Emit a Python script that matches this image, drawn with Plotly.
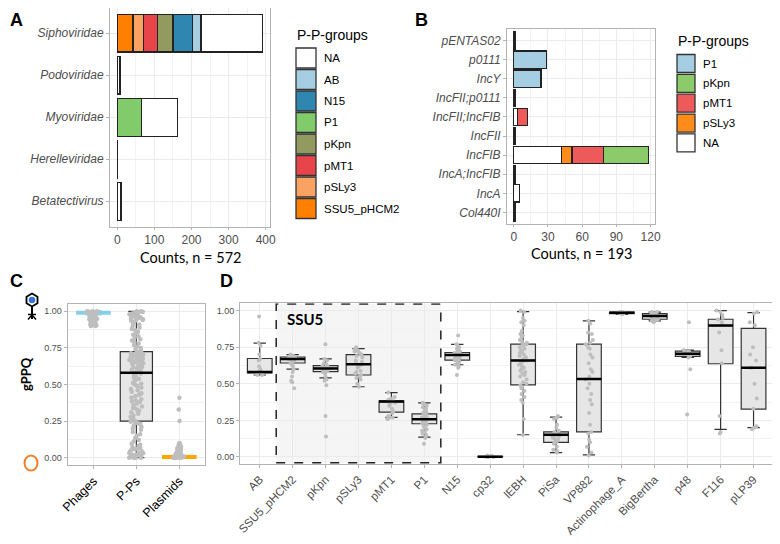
import plotly.graph_objects as go

# ---------------- panel A : phage families ----------------
families = ['Siphoviridae', 'Podoviridae', 'Myoviridae', 'Herelleviridae', 'Betatectivirus']
a_ssu5 = [42, 0, 0, 0, 0]
a_psly3 = [29, 0, 0, 0, 0]
a_pmt1 = [38, 0, 0, 0, 0]
a_pkpn = [41, 0, 0, 0, 0]
a_p1 = [0, 0, 66, 0, 0]
a_n15 = [52, 0, 0, 0, 0]
a_ab = [24, 0, 0, 0, 0]
a_na = [166, 7, 96, 1, 10]
groups_a = ['SSU5_pHCM2', 'pSLy3', 'pMT1', 'pKpn', 'P1', 'N15', 'AB', 'NA']
colors_a = ['#FF7F00', '#F9A262', '#E8454A', '#939A5F', '#82CB6A', '#2F86B0', '#A6CEE3', '#FFFFFF']

# ---------------- panel B : plasmid replicons ----------------
replicons = ['pENTAS02', 'p0111', 'IncY', 'IncFII;p0111', 'IncFII;IncFIB',
             'IncFII', 'IncFIB', 'IncA;IncFIB', 'IncA', 'Col440I']
b_na = [1, 0, 0, 1, 3, 1, 42, 1, 5, 1]
b_psly3 = [0, 0, 0, 0, 0, 0, 9, 0, 0, 0]
b_pmt1 = [0, 0, 0, 0, 9, 0, 28, 0, 0, 0]
b_pkpn = [0, 0, 0, 0, 0, 0, 39, 0, 0, 0]
b_p1 = [0, 29, 24, 0, 0, 0, 0, 0, 0, 0]
groups_b = ['NA', 'pSLy3', 'pMT1', 'pKpn', 'P1']
colors_b = ['#FFFFFF', '#FF8C1A', '#EE5A5A', '#8CCB69', '#A6CEE3']

# ---------------- panel C : gPPQ by element type ----------------
elements = ['Phages', 'P-Ps', 'Plasmids']
c_q1 = [0.985, 0.25, 0.0]
c_med = [0.99, 0.58, 0.005]
c_q3 = [0.995, 0.725, 0.01]
c_lo = [0.98, 0.0, 0.0]
c_hi = [1.0, 1.0, 0.012]
c_phages = [1.0, 1.0, 0.995, 0.995, 0.99, 0.99, 0.99, 0.985, 0.985, 0.98, 0.98, 0.975,
            0.97, 0.97, 0.965, 0.96, 0.96, 0.955, 0.95, 0.95, 0.945, 0.94, 0.935, 0.93,
            0.93, 0.925, 0.92, 0.915, 0.91, 0.905, 0.9, 0.9, 0.97, 0.99, 1.0, 0.98,
            0.96, 0.94, 0.92, 0.995]
c_pps = [0.0, 0.0, 0.0, 0.004, 0.008, 0.012, 0.015, 0.02, 0.022, 0.027, 0.03, 0.034,
         0.04, 0.043, 0.05, 0.056, 0.06, 0.067, 0.072, 0.08, 0.088, 0.095, 0.11, 0.12,
         0.135, 0.15, 0.16, 0.175, 0.19, 0.2, 0.21, 0.22, 0.23, 0.235, 0.24, 0.245,
         0.0, 0.01, 0.03, 0.06,
         0.25, 0.26, 0.27, 0.275, 0.28, 0.29, 0.3, 0.31, 0.315, 0.32, 0.33, 0.34, 0.345,
         0.35, 0.36, 0.37, 0.38, 0.385, 0.39, 0.4, 0.41, 0.42, 0.43, 0.435, 0.44, 0.45,
         0.46, 0.47, 0.48, 0.49, 0.5, 0.505, 0.51, 0.52, 0.53, 0.54, 0.55, 0.56, 0.565, 0.575,
         0.58, 0.585, 0.59, 0.595, 0.6, 0.605, 0.61, 0.615, 0.62, 0.625, 0.63, 0.635,
         0.64, 0.645, 0.65, 0.652, 0.656, 0.66, 0.664, 0.668, 0.672, 0.676, 0.68, 0.684,
         0.688, 0.69, 0.694, 0.698, 0.7, 0.704, 0.708, 0.71, 0.714, 0.718, 0.72, 0.724,
         0.6, 0.62, 0.66, 0.7,
         0.73, 0.74, 0.75, 0.76, 0.77, 0.78, 0.79, 0.8, 0.81, 0.82, 0.83, 0.84, 0.85,
         0.86, 0.87, 0.88, 0.89, 0.9, 0.91, 0.92, 0.93, 0.935, 0.94, 0.945, 0.95, 0.955,
         0.96, 0.965, 0.97, 0.975, 0.98, 0.985, 0.99, 0.99, 0.995, 1.0, 1.0, 0.98, 0.96, 0.94]
c_plasmids = [0.41, 0.33, 0.25, 0.1, 0.095, 0.09, 0.085, 0.08, 0.075, 0.07, 0.065, 0.06,
              0.055, 0.05, 0.045, 0.04, 0.04, 0.035, 0.03, 0.03, 0.025, 0.025, 0.02, 0.02,
              0.018, 0.015, 0.015, 0.012, 0.01, 0.01, 0.008, 0.006, 0.005, 0.004, 0.003,
              0.002, 0.001, 0.0, 0.0, 0.0, 0.0, 0.0, 0.02, 0.03, 0.01]

# ---------------- panel D : gPPQ by P-P group ----------------
pp_groups = ['AB', 'SSU5_pHCM2', 'pKpn', 'pSLy3', 'pMT1', 'P1', 'N15', 'cp32', 'lEBH',
             'PiSa', 'VP882', 'Actinophage_A', 'BigBertha', 'p48', 'F116', 'pLP39']
d_q1 = [0.575, 0.642, 0.583, 0.56, 0.306, 0.227, 0.662, 0.0, 0.492, 0.10, 0.172, 0.98, 0.941, 0.687, 0.637, 0.327]
d_med = [0.58, 0.669, 0.605, 0.633, 0.379, 0.258, 0.696, 0.002, 0.66, 0.152, 0.533, 0.985, 0.964, 0.705, 0.898, 0.61]
d_q3 = [0.673, 0.683, 0.624, 0.70, 0.383, 0.295, 0.714, 0.004, 0.771, 0.172, 0.771, 0.99, 0.98, 0.723, 0.941, 0.878]
d_lo = [0.56, 0.60, 0.54, 0.48, 0.27, 0.135, 0.63, 0.0, 0.152, 0.03, 0.014, 0.975, 0.93, 0.68, 0.188, 0.20]
d_hi = [0.778, 0.70, 0.67, 0.74, 0.44, 0.37, 0.77, 0.005, 0.993, 0.272, 0.93, 0.99, 0.99, 0.73, 1.0, 0.986]

d_ab = [0.96, 0.78, 0.76, 0.70, 0.67, 0.66, 0.62, 0.60, 0.59, 0.58, 0.58, 0.57, 0.57, 0.56, 0.56]
d_ssu5 = [0.70, 0.69, 0.69, 0.68, 0.68, 0.67, 0.67, 0.67, 0.66, 0.66, 0.65, 0.65, 0.64,
          0.63, 0.62, 0.60, 0.58, 0.55, 0.52, 0.51, 0.47]
d_pkpn = [0.77, 0.67, 0.66, 0.64, 0.63, 0.62, 0.62, 0.61, 0.61, 0.60, 0.60, 0.60, 0.59,
          0.59, 0.58, 0.58, 0.57, 0.55, 0.53, 0.52, 0.49, 0.28, 0.14]
d_psly3 = [0.75, 0.74, 0.73, 0.72, 0.72, 0.71, 0.70, 0.69, 0.68, 0.66, 0.65, 0.64, 0.63,
           0.62, 0.61, 0.59, 0.58, 0.57, 0.56, 0.55, 0.54, 0.53, 0.50, 0.48]
d_pmt1 = [0.44, 0.41, 0.40, 0.39, 0.38, 0.38, 0.37, 0.37, 0.36, 0.35, 0.33, 0.31, 0.30,
          0.28, 0.27, 0.27, 0.26, 0.26]
d_p1 = [0.37, 0.36, 0.36, 0.35, 0.34, 0.33, 0.32, 0.31, 0.30, 0.30, 0.29, 0.29, 0.28,
        0.28, 0.27, 0.27, 0.27, 0.26, 0.26, 0.26, 0.25, 0.25, 0.25, 0.24, 0.24, 0.23,
        0.23, 0.22, 0.21, 0.20, 0.19, 0.18, 0.17, 0.16, 0.15, 0.14, 0.13, 0.09]
d_n15 = [0.83, 0.77, 0.76, 0.75, 0.74, 0.73, 0.72, 0.72, 0.71, 0.71, 0.70, 0.70, 0.70,
         0.69, 0.69, 0.68, 0.68, 0.67, 0.67, 0.66, 0.66, 0.65, 0.64, 0.63, 0.62, 0.61, 0.56]
d_cp32 = [0.0, 0.0, 0.005, 0.01, 0.0, 0.008]
d_iebh = [1.0, 0.99, 0.95, 0.93, 0.92, 0.90, 0.86, 0.84, 0.83, 0.82, 0.80, 0.79, 0.78,
          0.77, 0.77, 0.76, 0.75, 0.74, 0.73, 0.72, 0.71, 0.70, 0.69, 0.68, 0.67, 0.66,
          0.66, 0.65, 0.64, 0.63, 0.62, 0.61, 0.60, 0.59, 0.58, 0.57, 0.56, 0.55, 0.53,
          0.51, 0.50, 0.49, 0.48, 0.47, 0.45, 0.43, 0.41, 0.39, 0.37, 0.26, 0.15]
d_pisa = [0.28, 0.27, 0.27, 0.26, 0.22, 0.20, 0.18, 0.17, 0.16, 0.16, 0.15, 0.15, 0.14,
          0.14, 0.13, 0.13, 0.12, 0.11, 0.10, 0.09, 0.07, 0.05, 0.04, 0.03]
d_vp882 = [0.93, 0.91, 0.85, 0.84, 0.80, 0.78, 0.77, 0.75, 0.74, 0.70, 0.68, 0.64, 0.60,
           0.58, 0.55, 0.53, 0.50, 0.47, 0.43, 0.39, 0.36, 0.30, 0.22, 0.17, 0.16, 0.12,
           0.10, 0.07, 0.03, 0.01]
d_actino = [0.99, 0.99, 0.985, 0.985, 0.98, 0.98, 0.99, 0.975]
d_bigbertha = [0.99, 0.99, 0.985, 0.98, 0.975, 0.97, 0.965, 0.96, 0.96, 0.955, 0.95,
               0.94, 0.935, 0.93, 0.92]
d_p48 = [0.92, 0.73, 0.72, 0.72, 0.71, 0.70, 0.70, 0.69, 0.68, 0.60, 0.29]
d_f116 = [1.0, 0.99, 0.97, 0.95, 0.94, 0.92, 0.90, 0.85, 0.73, 0.64, 0.28, 0.17, 0.16]
d_plp39 = [0.99, 0.98, 0.92, 0.90, 0.75, 0.70, 0.66, 0.61, 0.50, 0.40, 0.33, 0.21, 0.20, 0.19]
d_points = [d_ab, d_ssu5, d_pkpn, d_psly3, d_pmt1, d_p1, d_n15, d_cp32, d_iebh, d_pisa,
            d_vp882, d_actino, d_bigbertha, d_p48, d_f116, d_plp39]

W, H = 780, 544
OFF = 8  # the page body adds an 8px margin, so shift everything back by that much
def px(x):
    return (x - OFF) / W
def py(y):
    return 1 - (y - OFF) / H

GRID = '#EBEBEB'
BORDER = '#B3B3B3'
TICKC = '#4D4D4D'
BAR_LINE = dict(color='#222222', width=1.3)

fig = go.Figure()

# A: stacked bars
a_series = [a_ssu5, a_psly3, a_pmt1, a_pkpn, a_p1, a_n15, a_ab, a_na]
for name, vals, col in zip(groups_a, a_series, colors_a):
    fig.add_trace(go.Bar(y=families, x=vals, orientation='h', name=name, marker=dict(color=col, line=BAR_LINE),
                         width=0.9, xaxis='x', yaxis='y'))

# B: stacked bars
b_series = [b_na, b_psly3, b_pmt1, b_pkpn, b_p1]
for name, vals, col in zip(groups_b, b_series, colors_b):
    fig.add_trace(go.Bar(y=replicons, x=vals, orientation='h', name=name, marker=dict(color=col, line=BAR_LINE),
                         width=0.9, xaxis='x2', yaxis='y2'))

# C: boxes
c_line = ['#87CEEB', '#333333', '#FFA500']
for i, el in enumerate(elements):
    fig.add_trace(go.Box(x=[el], q1=[c_q1[i]], median=[c_med[i]], q3=[c_q3[i]],
                         lowerfence=[c_lo[i]], upperfence=[c_hi[i]], width=0.75,
                         fillcolor='#E6E6E6', line=dict(color=c_line[i], width=2.5 if i != 1 else 1.2),
                         boxpoints=False, xaxis='x3', yaxis='y3'))
c_x = ['Phages'] * len(c_phages) + ['P-Ps'] * len(c_pps) + ['Plasmids'] * len(c_plasmids)
fig.add_trace(go.Box(x=c_x, y=c_phages + c_pps + c_plasmids, boxpoints='all', jitter=0.45, pointpos=0,
                     width=0.75, fillcolor='rgba(0,0,0,0)', line=dict(color='rgba(0,0,0,0)', width=0),
                     marker=dict(color='#BEBEBE', size=4.5), xaxis='x3', yaxis='y3'))
fig.add_trace(go.Box(x=[elements[1]], q1=[c_med[1]], median=[c_med[1]], q3=[c_med[1]],
                     lowerfence=[c_med[1]], upperfence=[c_med[1]], width=0.75,
                     line=dict(color='#000000', width=2.5), boxpoints=False, xaxis='x3', yaxis='y3'))

# D: boxes
fig.add_trace(go.Box(x=pp_groups, q1=d_q1, median=d_med, q3=d_q3, lowerfence=d_lo, upperfence=d_hi,
                     width=0.75, fillcolor='#E6E6E6', line=dict(color='#333333', width=1.2),
                     boxpoints=False, xaxis='x4', yaxis='y4'))
d_x = []
d_y = []
for g, vals in zip(pp_groups, d_points):
    d_x += [g] * len(vals)
    d_y += vals
fig.add_trace(go.Box(x=d_x, y=d_y, boxpoints='all', jitter=0.35, pointpos=0, width=0.75,
                     fillcolor='rgba(0,0,0,0)', line=dict(color='rgba(0,0,0,0)', width=0),
                     marker=dict(color='#BEBEBE', size=4), xaxis='x4', yaxis='y4'))
fig.add_trace(go.Box(x=pp_groups, q1=d_med, median=d_med, q3=d_med, lowerfence=d_med, upperfence=d_med,
                     width=0.75, line=dict(color='#000000', width=2.5), boxpoints=False,
                     xaxis='x4', yaxis='y4'))

# axes
lin = dict(showline=True, mirror=True, linecolor=BORDER, linewidth=1, gridcolor=GRID, zeroline=False,
           automargin=False, ticks='outside', tickcolor=BORDER, ticklen=3,
           tickfont=dict(family='Liberation Sans', size=12, color=TICKC))
fig.update_layout(
    xaxis=dict(lin, domain=[px(110), px(270)], range=[-19.6, 411.6], dtick=100, anchor='y', ticklen=2,
               minor=dict(dtick=50, showgrid=True, gridcolor='#F3F3F3')),
    yaxis=dict(lin, domain=[py(226.5), py(8)], type='category', categoryorder='array',
               categoryarray=families[::-1], range=[-0.6, 4.6], anchor='x',
               tickfont=dict(family='Liberation Sans', size=12, color=TICKC, style='italic')),
    xaxis2=dict(lin, domain=[px(507), px(655)], range=[-5.9, 123.9], dtick=30, anchor='y2', ticklen=2,
                minor=dict(dtick=15, showgrid=True, gridcolor='#F3F3F3')),
    yaxis2=dict(lin, domain=[py(224), py(29)], type='category', categoryorder='array',
                categoryarray=replicons[::-1], range=[-0.6, 9.6], anchor='x2',
                tickfont=dict(family='Liberation Sans', size=12, color=TICKC, style='italic')),
    xaxis3=dict(lin, domain=[px(67.7), px(205)], type='category', categoryorder='array',
                categoryarray=elements, range=[-0.6, 2.6], anchor='y3', tickangle=-45,
                tickfont=dict(family='Liberation Sans', size=12.5, color='#000000')),
    yaxis3=dict(lin, domain=[py(465), py(304)], range=[-0.05, 1.05], dtick=0.25, tickformat='.2f',
                anchor='x3', tickfont=dict(family='Liberation Sans', size=9, color=TICKC),
                minor=dict(dtick=0.125, showgrid=True, gridcolor='#F3F3F3')),
    xaxis4=dict(lin, domain=[px(240), px(773.3)], type='category', categoryorder='array',
                categoryarray=pp_groups, range=[-0.6, 15.6], anchor='y4', tickangle=-45,
                tickfont=dict(family='Liberation Sans', size=11.5, color=TICKC)),
    yaxis4=dict(lin, domain=[py(464.3), py(303.3)], range=[-0.05, 1.05], dtick=0.25, tickformat='.2f',
                anchor='x4', tickfont=dict(family='Liberation Sans', size=9, color=TICKC),
                minor=dict(dtick=0.125, showgrid=True, gridcolor='#F3F3F3')),
    barmode='stack', boxmode='overlay', showlegend=False,
    width=W, height=H, autosize=False, margin=dict(l=0, r=0, t=0, b=0),
    paper_bgcolor='white', plot_bgcolor='white',
)

shapes = []
annotations = []

def note(x, y, text, size, family='Liberation Sans', xanchor='center', angle=0, ref='paper', yanchor='middle'):
    if ref == 'paper':
        x, y = px(x), py(y)
        xr, yr = 'paper', 'paper'
    else:
        xr, yr = ref
    annotations.append(dict(xref=xr, yref=yr, x=x, y=y, text=text, showarrow=False, xanchor=xanchor,
                            yanchor=yanchor, textangle=angle,
                            font=dict(family=family, size=size, color='#000000')))

# SSU5 highlighted region in D
shapes.append(dict(type='rect', xref='x4', yref='y4', x0=0.5, x1=5.5, y0=-0.04, y1=1.045,
                   fillcolor='#F5F5F5', line=dict(width=0), layer='below'))
shapes.append(dict(type='rect', xref='x4', yref='y4', x0=0.5, x1=5.5, y0=-0.04, y1=1.045,
                   line=dict(color='#222222', width=1.5, dash='dash')))
note(0.78, 0.945, '<b>SSU5</b>', 15, 'Lato', 'left', ref=('x4', 'y4'))

# legends (drawn as keys + labels)
def legend(names, cols, x0, ytop, kw, kh, step, title, ty):
    note(x0 - 1, ty, title, 14, xanchor='left')
    for i, (n, c) in enumerate(zip(names, cols)):
        y0 = ytop + i * step
        shapes.append(dict(type='rect', xref='paper', yref='paper', x0=px(x0), x1=px(x0 + kw),
                           y0=py(y0 + kh), y1=py(y0), fillcolor=c, line=dict(color='#333333', width=1.3)))
        note(x0 + kw + 6, y0 + kh / 2, n, 11.5, xanchor='left')

legend(groups_a[::-1], colors_a[::-1], 296, 48, 20, 20, 21.5, 'P-P-groups', 35)
legend(groups_b[::-1], colors_b[::-1], 677, 54.5, 18, 18, 19.85, 'P-P-groups', 41)

# axis titles
note(190, 257, 'Counts, n = 572', 14.5, 'Lato')
note(581, 254, 'Counts, n = 193', 14.5, 'Lato')
note(26, 374, '<b>gPPQ</b>', 13, 'Lato', angle=-90)

# panel letters
for letter, lx, ly in [('A', 8, 8), ('B', 413, 8), ('C', 8, 269), ('D', 218, 269)]:
    note(lx, ly, '<b>%s</b>' % letter, 18, xanchor='left', yanchor='top')

# phage icon and plasmid ring next to panel C
hexagon = 'M %f %f L %f %f L %f %f L %f %f L %f %f L %f %f Z' % (
    px(32), py(293.5), px(37.5), py(296.8), px(37.5), py(303.2),
    px(32), py(306.5), px(26.5), py(303.2), px(26.5), py(296.8))
shapes.append(dict(type='path', xref='paper', yref='paper', path=hexagon, fillcolor='white',
                   line=dict(color='#000000', width=1.8)))
shapes.append(dict(type='circle', xref='paper', yref='paper', x0=px(28.7), x1=px(35.3), y0=py(303.3), y1=py(296.7),
                   fillcolor='#3B73D6', line=dict(width=0)))
shapes.append(dict(type='line', xref='paper', yref='paper', x0=px(32), x1=px(32), y0=py(306.5), y1=py(319),
                   line=dict(color='#000000', width=2)))
shapes.append(dict(type='line', xref='paper', yref='paper', x0=px(28), x1=px(36), y0=py(314.5), y1=py(314.5),
                   line=dict(color='#000000', width=1.5)))
shapes.append(dict(type='line', xref='paper', yref='paper', x0=px(32), x1=px(28), y0=py(315), y1=py(319.5),
                   line=dict(color='#000000', width=1.5)))
shapes.append(dict(type='line', xref='paper', yref='paper', x0=px(32), x1=px(36), y0=py(315), y1=py(319.5),
                   line=dict(color='#000000', width=1.5)))
shapes.append(dict(type='circle', xref='paper', yref='paper', x0=px(24.5), x1=px(37.5), y0=py(470.5), y1=py(455.5),
                   line=dict(color='#F07F2A', width=2)))

fig.update_layout(shapes=shapes, annotations=annotations)
fig.write_html("out.html")
